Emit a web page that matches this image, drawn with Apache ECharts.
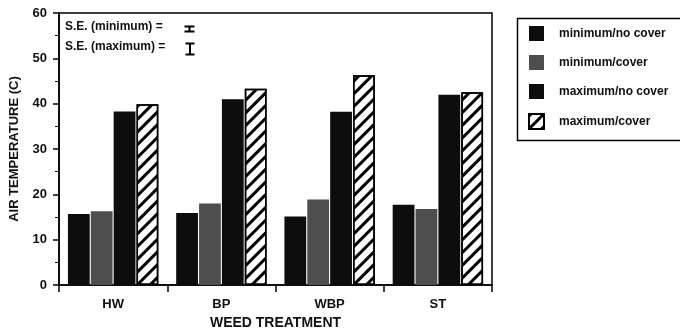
<!DOCTYPE html>
<html>
<head>
<meta charset="utf-8">
<script src="https://cdn.jsdelivr.net/npm/echarts@6/dist/echarts.min.js"></script>
<style>
html,body{margin:0;padding:0;background:#fff;}
#chart{width:680px;height:335px;}
</style>
</head>
<body>
<div id="chart"></div>
<script>
const categories = ['HW', 'BP', 'WBP', 'ST'];
const seriesNames = ['minimum/no cover', 'minimum/cover', 'maximum/no cover', 'maximum/cover'];
const minNoCover = [15.7, 15.9, 15.1, 17.7];
const minCover = [16.3, 18.0, 18.9, 16.8];
const maxNoCover = [38.3, 41.0, 38.2, 42.0];
const maxCover = [39.9, 43.3, 46.3, 42.5];
const yTicks = [0, 10, 20, 30, 40, 50, 60];

const FONT = '"Liberation Sans", Arial, sans-serif';
const chart = echarts.init(document.getElementById('chart'));

const hatch = {
  symbol: 'rect',
  color: '#000',
  dashArrayX: [1, 0],
  dashArrayY: [2.5, 6],
  rotation: -Math.PI / 4
};

function bar(name, data, style) {
  return {
    name: name,
    type: 'bar',
    data: data,
    barGap: '5%',
    barCategoryGap: '16.5%',
    itemStyle: style,
    emphasis: { disabled: true }
  };
}

chart.setOption({
  animation: false,
  backgroundColor: '#fff',
  grid: { left: 56, right: 188, top: 13, bottom: 46, show: true, borderColor: '#000', borderWidth: 1.5 },
  legend: {
    orient: 'vertical',
    left: 515,
    top: 16,
    padding: [10, 20, 10, 13],
    itemWidth: 15,
    itemHeight: 15,
    itemGap: 14,
    borderWidth: 0,
    icon: 'rect',
    data: seriesNames,
    textStyle: { fontFamily: FONT, fontWeight: 'bold', fontSize: 12, color: '#111', padding: [0, 0, 0, 10] }
  },
  xAxis: {
    type: 'category',
    data: categories,
    axisLine: { lineStyle: { color: '#000', width: 1.5 } },
    axisTick: { show: true, length: 7, lineStyle: { color: '#000', width: 1.5 } },
    axisLabel: { fontFamily: FONT, fontWeight: 'bold', fontSize: 13, color: '#111', margin: 13 },
    name: 'WEED TREATMENT',
    nameLocation: 'middle',
    nameGap: 30,
    nameTextStyle: { fontFamily: FONT, fontWeight: 'bold', fontSize: 14, color: '#111' }
  },
  yAxis: {
    type: 'value',
    min: yTicks[0],
    max: yTicks[yTicks.length - 1],
    interval: 10,
    splitLine: { show: false },
    axisLine: { show: true, lineStyle: { color: '#000', width: 1.5 } },
    axisTick: { show: true, length: 6, lineStyle: { color: '#000', width: 1.5 } },
    minorTick: { show: true, splitNumber: 2, length: 4, lineStyle: { color: '#000', width: 1 } },
    axisLabel: { fontFamily: FONT, fontWeight: 'bold', fontSize: 13, color: '#111', margin: 12 },
    name: 'AIR TEMPERATURE (C)',
    nameLocation: 'middle',
    nameGap: 38,
    nameTextStyle: { fontFamily: FONT, fontWeight: 'bold', fontSize: 13, color: '#111' }
  },
  series: [
    bar(seriesNames[0], minNoCover, { color: '#0d0d0d' }),
    bar(seriesNames[1], minCover, { color: '#4e4e4e' }),
    bar(seriesNames[2], maxNoCover, { color: '#0d0d0d' }),
    bar(seriesNames[3], maxCover, { color: '#fff', borderColor: '#000', borderWidth: 1.5, decal: hatch })
  ],
  graphic: [
    { type: 'rect', left: 515, top: 16, z: -1, shape: { width: 220, height: 122 }, style: { fill: 'none', stroke: '#000', lineWidth: 1.5 } },
    { type: 'text', left: 65, top: 21, style: { text: 'S.E. (minimum) =', font: 'bold 12px ' + FONT, fill: '#111' } },
    { type: 'text', left: 65, top: 41, style: { text: 'S.E. (maximum) =', font: 'bold 12px ' + FONT, fill: '#111' } },
    { type: 'group', left: 182, top: 24, children: [
      { type: 'line', shape: { x1: 0, y1: 0, x2: 10, y2: 0 }, style: { stroke: '#000', lineWidth: 2 } },
      { type: 'line', shape: { x1: 0, y1: 5, x2: 10, y2: 5 }, style: { stroke: '#000', lineWidth: 2 } },
      { type: 'line', shape: { x1: 5, y1: 0, x2: 5, y2: 5 }, style: { stroke: '#000', lineWidth: 2 } }
    ] },
    { type: 'group', left: 183, top: 41, children: [
      { type: 'line', shape: { x1: 0, y1: 0, x2: 9, y2: 0 }, style: { stroke: '#000', lineWidth: 2 } },
      { type: 'line', shape: { x1: 0, y1: 11, x2: 9, y2: 11 }, style: { stroke: '#000', lineWidth: 2 } },
      { type: 'line', shape: { x1: 4.5, y1: 0, x2: 4.5, y2: 11 }, style: { stroke: '#000', lineWidth: 2 } }
    ] }
  ]
});
</script>
</body>
</html>
